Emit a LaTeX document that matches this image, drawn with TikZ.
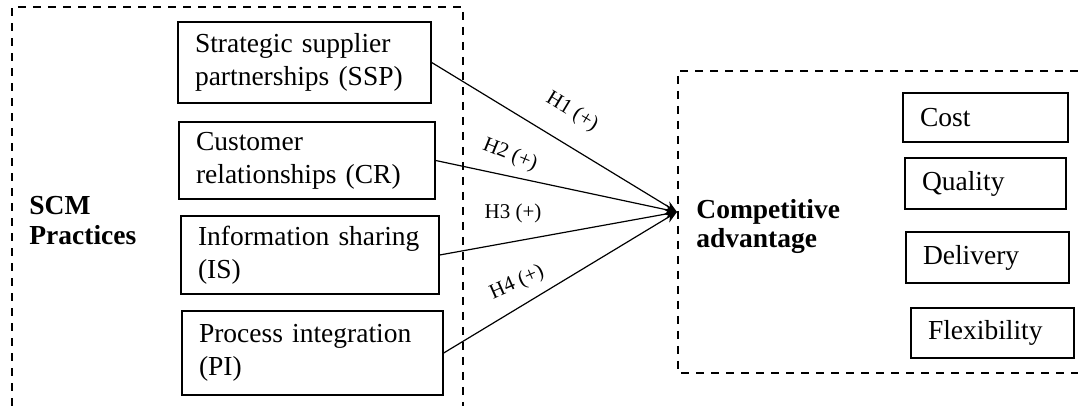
\documentclass[tikz,border=0pt]{standalone}
\usepackage{fontspec}
\setmainfont{Liberation Serif}
\usetikzlibrary{arrows.meta}
\begin{document}
\begin{tikzpicture}[x=0.5pt,y=-0.5pt,
  txt/.style={font=\fontsize{13.75}{16.5}\selectfont},
  box/.style={txt,draw,line width=0.7pt,inner ysep=0pt,inner xsep=8.5pt,align=left,anchor=center},
  frame/.style={dashed,dash pattern=on 4pt off 3.5pt,line width=0.6pt},
  link/.style={line width=0.6pt,-{Stealth[length=6pt,width=5pt]}},
  hlab/.style={font=\fontsize{10.5}{12}\selectfont,inner sep=0pt}]
\useasboundingbox (0,0) rectangle (1078,406);
% frames
\draw[frame] (12,406) -- (12,7) -- (463,7) -- (463,406);
\draw[frame] (1078,71) -- (678,71) -- (678,373) -- (1078,373);
% left boxes
\node[box,text width=109.5pt,minimum height=40.5pt] (ssp) at (304.5,62.5) {Strategic supplier\\partnerships (SSP)};
\node[box,text width=111pt,minimum height=38.5pt] (cr) at (307,160.5) {Customer\\relationships (CR)};
\node[box,text width=112pt,minimum height=39pt] (is) at (310,255) {Information sharing\\(IS)};
\node[box,text width=113.5pt,minimum height=42pt] (pi) at (312.5,353) {Process integration\\(PI)};
% right boxes
\node[box,text width=65.5pt,minimum height=24.5pt] (cost) at (985.5,117.5) {Cost};
\node[box,text width=63.5pt,minimum height=25.5pt] (qual) at (985.5,183.5) {Quality};
\node[box,text width=64.5pt,minimum height=25.5pt] (deli) at (987.5,257.5) {Delivery};
\node[box,text width=64.5pt,minimum height=25pt] (flex) at (992.5,333) {Flexibility};
% titles
\node[txt,font=\fontsize{13.75}{15}\selectfont\bfseries,align=left,anchor=west,inner sep=0pt] (scm) at (29,221) {SCM\\Practices};
\node[txt,font=\fontsize{13.75}{14.5}\selectfont\bfseries,align=left,anchor=west,inner sep=0pt] (ca) at (696,226) {Competitive\\advantage};
% connectors
\coordinate (tip) at (677,212);
\draw[link] (ssp.east) -- (tip);
\draw[link] (cr.east) -- (tip);
\draw[link] (is.east) -- (tip);
\draw[link] (pi.east) -- (tip);
% labels
\node[hlab,rotate=-31] (h1) at (572,112) {H1 (+)};
\node[hlab,rotate=-22] (h2) at (510,155) {H2 (+)};
\node[hlab] (h3) at (513,213) {H3 (+)};
\node[hlab,rotate=24] (h4) at (517,283) {H4 (+)};
\end{tikzpicture}
\end{document}
